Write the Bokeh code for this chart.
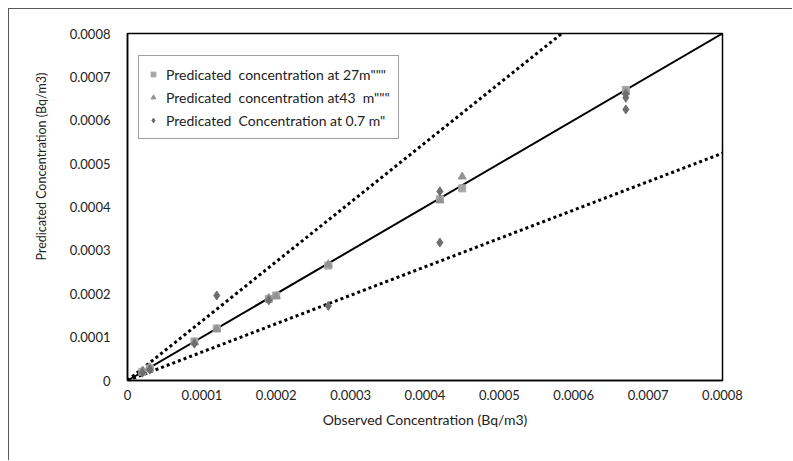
from bokeh.plotting import figure
from bokeh.models import ColumnDataSource, FixedTicker, Legend, LegendItem, Title
from bokeh.embed import file_html
from bokeh.resources import INLINE

# ---- data ----
x_ticks = [0, 0.0001, 0.0002, 0.0003, 0.0004, 0.0005, 0.0006, 0.0007, 0.0008]
tick_labels = ["0", "0.0001", "0.0002", "0.0003", "0.0004", "0.0005", "0.0006", "0.0007", "0.0008"]

obs_27 = [0.00002, 0.00003, 0.00009, 0.00012, 0.00019, 0.0002, 0.00027, 0.00042, 0.00045, 0.00067]
pred_27 = [0.00002, 0.000028, 0.00009, 0.00012, 0.000188, 0.000196, 0.000265, 0.000418, 0.000443, 0.00067]

obs_43 = [0.00002, 0.00003, 0.00009, 0.00012, 0.00019, 0.0002, 0.00027, 0.00042, 0.00045, 0.00067]
pred_43 = [0.000022, 0.00003, 0.000088, 0.000118, 0.00019, 0.000194, 0.000268, 0.000415, 0.00047, 0.000665]

obs_07 = [0.00002, 0.00003, 0.00009, 0.00012, 0.00019, 0.00027, 0.00042, 0.00042, 0.00067, 0.00067, 0.00067]
pred_07 = [0.000018, 0.000025, 0.000085, 0.000196, 0.000185, 0.000172, 0.000436, 0.000318, 0.00066, 0.000652, 0.000625]

line_x = [0, 0.0008]
slope_one = 1.0
slope_upper = 1.37
slope_lower = 0.655

labels = ['Predicated  concentration at 27m"""',
          'Predicated  concentration at43  m"""',
          'Predicated  Concentration at 0.7 m"']
x_title = "Observed Concentration (Bq/m3)"
y_title = "Predicated Concentration (Bq/m3)"

FONT = "Lato"
TXT = "#222222"

p = figure(width=784, height=452, x_range=(0, 0.0008), y_range=(0, 0.0008),
           output_backend="svg", toolbar_location=None,
           min_border_left=118, min_border_right=71, min_border_top=24, min_border_bottom=81)
p.styles = {"margin-left": "8px", "margin-top": "8px",
            "border-top": "1px solid #595959", "border-left": "1px solid #595959"}

p.grid.visible = False
p.outline_line_color = "#000000"
p.outline_line_width = 1.5

for ax in (p.xaxis, p.yaxis):
    ax.ticker = FixedTicker(ticks=x_ticks)
    ax.major_label_overrides = {t: l for t, l in zip(x_ticks, tick_labels)}
    ax.major_tick_line_color = None
    ax.minor_tick_line_color = None
    ax.major_tick_out = 0
    ax.major_tick_in = 0
    ax.minor_tick_out = 0
    ax.axis_line_color = "#000000"
    ax.axis_line_width = 1.5
    ax.major_label_text_font = FONT
    ax.major_label_text_font_size = "13px"
    ax.major_label_text_color = TXT
    ax.axis_label_text_font = FONT
    ax.axis_label_text_font_size = "14px"
    ax.axis_label_text_font_style = "normal"
    ax.axis_label_text_color = TXT

p.xaxis.axis_label = x_title
p.xaxis.major_label_standoff = 9
p.yaxis.major_label_standoff = 17
p.xaxis.axis_label_standoff = 8

# y-axis title as a side title, anchored from the bottom so it sits above centre
p.add_layout(Title(text=y_title, align="left", offset=120, standoff=36,
                   text_font=FONT, text_font_size="12.5px", text_font_style="normal",
                   text_color=TXT), "left")

# reference lines
p.line(line_x, [v * slope_upper for v in line_x], line_color="#000000", line_width=3, line_dash="3 3")
p.line(line_x, [v * slope_lower for v in line_x], line_color="#000000", line_width=3, line_dash="3 3")
p.line(line_x, [v * slope_one for v in line_x], line_color="#000000", line_width=2)

s27 = ColumnDataSource(dict(x=obs_27, y=pred_27))
s43 = ColumnDataSource(dict(x=obs_43, y=pred_43))
s07 = ColumnDataSource(dict(x=obs_07, y=pred_07))

r27 = p.scatter("x", "y", source=s27, marker="square", size=7, fill_color="#a6a6a6", line_color="#a6a6a6")
r43 = p.scatter("x", "y", source=s43, marker="triangle", size=8, fill_color="#939393", line_color="#939393")
r07 = p.scatter("x", "y", source=s07, marker="diamond", size=9, fill_color="#6e6e6e", line_color="#6e6e6e")

legend = Legend(items=[LegendItem(label=labels[0], renderers=[r27]),
                       LegendItem(label=labels[1], renderers=[r43]),
                       LegendItem(label=labels[2], renderers=[r07])],
                location=(11, 241))
legend.label_text_font = FONT
legend.label_text_font_size = "14px"
legend.label_text_color = TXT
legend.border_line_color = "#404040"
legend.border_line_width = 1
legend.glyph_width = 12
legend.glyph_height = 12
legend.label_height = 20
legend.label_standoff = 7
legend.spacing = 3
legend.padding = 8
legend.margin = 0
legend.background_fill_alpha = 1
p.add_layout(legend)

open("out.html", "w").write(file_html(p, INLINE))
